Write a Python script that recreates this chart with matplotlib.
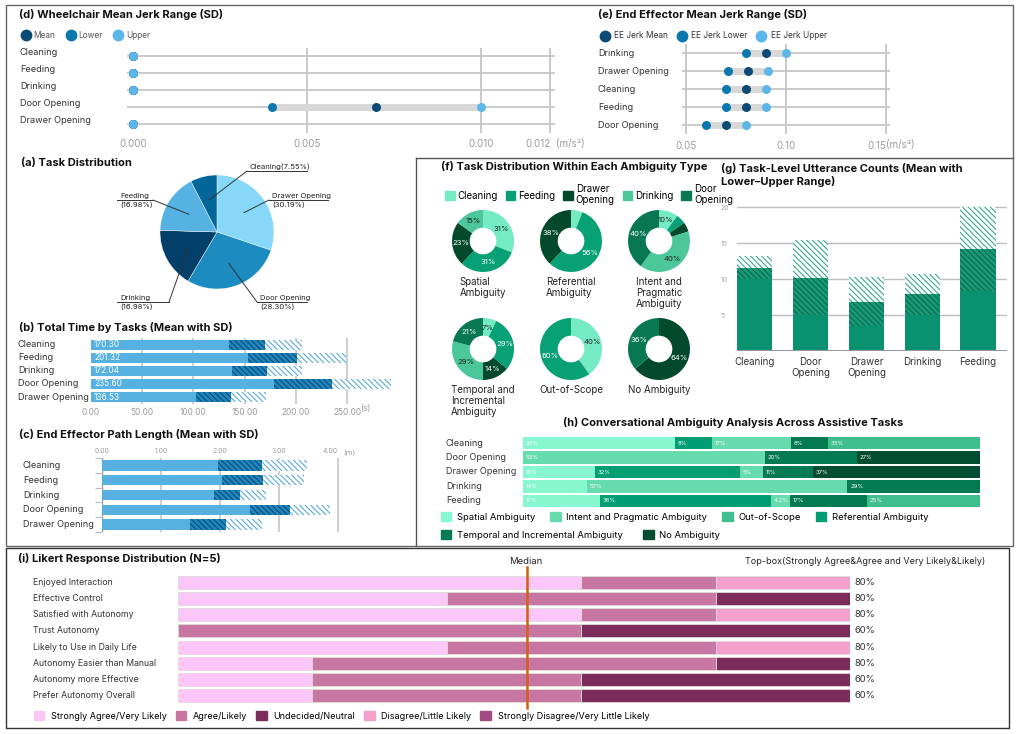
import numpy as np
import matplotlib
matplotlib.use('Agg')
import matplotlib.pyplot as plt
import matplotlib.transforms as mtransforms
from matplotlib.lines import Line2D
from matplotlib.patches import Patch, Rectangle

plt.rcParams['font.family'] = ['Inter', 'DejaVu Sans']
plt.rcParams['hatch.linewidth'] = 0.75

# ---------------- data ----------------
# (d) wheelchair mean jerk
wc_tasks = ['Cleaning', 'Feeding', 'Drinking', 'Door Opening', 'Drawer Opening']
wc_mean = [0.0, 0.0, 0.0, 0.007, 0.0]
wc_lower = [0.0, 0.0, 0.0, 0.004, 0.0]
wc_upper = [0.0, 0.0, 0.0, 0.010, 0.0]

# (e) end effector mean jerk
ee_tasks = ['Drinking', 'Drawer Opening', 'Cleaning', 'Feeding', 'Door Opening']
ee_mean = [0.09, 0.081, 0.08, 0.08, 0.07]
ee_lower = [0.08, 0.071, 0.07, 0.07, 0.06]
ee_upper = [0.10, 0.091, 0.09, 0.09, 0.08]

# (a) task distribution
pie_tasks = ['Drawer Opening', 'Door Opening', 'Drinking', 'Feeding', 'Cleaning']
pie_share = [30.19, 28.30, 16.98, 16.98, 7.55]

# (b) total time
time_tasks = ['Cleaning', 'Feeding', 'Drinking', 'Door Opening', 'Drawer Opening']
time_mean = [170.30, 201.32, 172.04, 235.60, 136.53]
time_sd = [36.0, 47.5, 34.0, 57.0, 34.0]

# (c) end effector path length
path_tasks = ['Cleaning', 'Feeding', 'Drinking', 'Door Opening', 'Drawer Opening']
path_mean = [2.72, 2.73, 2.34, 3.19, 2.11]
path_sd = [0.75, 0.70, 0.44, 0.68, 0.61]

# (f) task distribution within ambiguity types
amb_tasks = ['Cleaning', 'Feeding', 'Drawer Opening', 'Drinking', 'Door Opening']
amb_types = ['Spatial\nAmbiguity', 'Referential\nAmbiguity', 'Intent and\nPragmatic\nAmbiguity',
             'Temporal and\nIncremental\nAmbiguity', 'Out-of-Scope', 'No Ambiguity']
amb_share = [[31, 31, 23, 15, 0],
             [6, 56, 38, 0, 0],
             [10, 5, 5, 40, 40],
             [7, 29, 14, 29, 21],
             [40, 60, 0, 0, 0],
             [0, 0, 64, 0, 36]]

# (g) utterance counts
utt_tasks = ['Cleaning', 'Door\nOpening', 'Drawer\nOpening', 'Drinking', 'Feeding']
utt_lower = [10.0, 5.0, 3.5, 5.0, 8.3]
utt_mean = [11.6, 10.2, 6.8, 7.9, 14.2]
utt_upper = [13.2, 15.5, 10.3, 10.7, 20.0]

# (h) conversational ambiguity
conv_tasks = ['Cleaning', 'Door Opening', 'Drawer Opening', 'Drinking', 'Feeding']
conv_spatial = [33, 0, 16, 14, 17]
conv_referential = [8, 0, 32, 0, 38]
conv_intent = [17, 53, 5, 57, 4.2]
conv_temporal = [8, 20, 11, 29, 17]
conv_oos = [33, 0, 0, 0, 25]
conv_none = [0, 27, 37, 0, 0]

# (i) likert
lik_items = ['Enjoyed Interaction', 'Effective Control', 'Satisfied with Autonomy', 'Trust Autonomy',
             'Likely to Use in Daily Life', 'Autonomy Easier than Manual',
             'Autonomy more Effective', 'Prefer Autonomy Overall']
lik_levels = ['Strongly Agree/Very Likely', 'Agree/Likely', 'Undecided/Neutral',
              'Disagree/Little Likely', 'Strongly Disagree/Very Little Likely']
lik_counts = [[3, 1, 0, 1, 0],
              [2, 2, 1, 0, 0],
              [3, 1, 0, 1, 0],
              [0, 3, 2, 0, 0],
              [2, 2, 0, 1, 0],
              [1, 3, 1, 0, 0],
              [1, 2, 2, 0, 0],
              [1, 2, 2, 0, 0]]
lik_median = 2.6

# ---------------- helpers ----------------
W, H = 1020, 734
fig = plt.figure(figsize=(W / 100, H / 100), dpi=100)


def add_ax(x0, y0, x1, y1):
    return fig.add_axes([x0 / W, 1 - y1 / H, (x1 - x0) / W, (y1 - y0) / H])


def ftext(x, y, s, **kw):
    kw.setdefault('va', 'center')
    return fig.text(x / W, 1 - y / H, s, **kw)


def fline(xs, ys, color='#555', lw=1.0):
    fig.add_artist(Line2D([x / W for x in xs], [1 - y / H for y in ys],
                          transform=fig.transFigure, color=color, lw=lw))


def row_labels(ax, labels, x, dy=0.0, size=6.6):
    tr = mtransforms.blended_transform_factory(fig.transFigure, ax.transData)
    for i, lab in enumerate(labels):
        ax.text(x / W, i + dy, lab, transform=tr, ha='left', va='center',
                fontsize=size, color='#333')


def clean(ax):
    for s in ax.spines.values():
        s.set_visible(False)


TITLE = dict(fontsize=8, fontweight='bold', color='#111')
GRID = '#c6c6c6'
TICK = '#9a9a9a'

# frames
fig.add_artist(Rectangle((6 / W, 1 - 546 / H), 1007 / W, 541 / H, transform=fig.transFigure,
                         fill=False, edgecolor='#666', lw=1.0))
fline([416, 416], [158, 546])
fline([416, 1013], [158, 158])
fig.add_artist(Rectangle((6 / W, 1 - 728 / H), 1003 / W, 180 / H, transform=fig.transFigure,
                         fill=False, edgecolor='#333', lw=1.0))

# ---------------- (d) and (e) jerk ranges ----------------
C_MEAN, C_LO, C_HI = '#0b4a74', '#0a78ad', '#5cb6e8'


def jerk_panel(ax, tasks, lo, mean, hi, ticks, ticklabels, xlim):
    ys = np.arange(len(tasks))
    ax.set_xlim(*xlim)
    ax.set_ylim(len(tasks) - 0.5, -0.5)
    for t in ticks[1:]:
        ax.axvline(t, color=GRID, lw=1.3, zorder=0)
    for y in ys:
        ax.axhline(y, color=GRID, lw=1.3, zorder=0)
    ax.hlines(ys, lo, hi, color='#d8d8d8', lw=5, zorder=1)
    ax.scatter(lo, ys, s=42, color=C_LO, zorder=3, lw=0)
    ax.scatter(mean, ys, s=42, color=C_MEAN, zorder=3, lw=0)
    ax.scatter(hi, ys, s=42, color=C_HI, zorder=4, lw=0)
    ax.set_xticks(ticks, ticklabels)
    ax.set_yticks([])
    ax.tick_params(axis='x', length=0, labelsize=7, labelcolor=TICK, pad=5)
    ax.get_xticklabels()[-1].set_ha('right')
    clean(ax)


ax_d = add_ax(127, 47.5, 555, 132.5)
jerk_panel(ax_d, wc_tasks, wc_lower, wc_mean, wc_upper,
           [0.0, 0.005, 0.010, 0.012], ['0.000', '0.005', '0.010', '0.012'], (-0.00017, 0.01213))
row_labels(ax_d, wc_tasks, 20, dy=-0.18)
ftext(556, 144, '(m/s³)', fontsize=7, color=TICK, ha='left')
ftext(19, 15, '(d) Wheelchair Mean Jerk Range (SD)', **TITLE)
fig.legend([Line2D([], [], ls='', marker='o', ms=7.5, color=c) for c in (C_MEAN, C_LO, C_HI)],
           ['Mean', 'Lower', 'Upper'], loc='center left', bbox_to_anchor=(18 / W, 1 - 35 / H),
           ncol=3, frameon=False, fontsize=6, handlelength=0.8, handletextpad=0.5,
           columnspacing=1.5, borderpad=0, labelcolor='#555')

ax_e = add_ax(682, 44, 890, 134)
jerk_panel(ax_e, ee_tasks, ee_lower, ee_mean, ee_upper,
           [0.05, 0.10, 0.15], ['0.05', '0.10', '0.15'], (0.048, 0.152))
ax_e.axvline(0.05, color=GRID, lw=1.3, zorder=0)
row_labels(ax_e, ee_tasks, 598, dy=0.0)
ftext(886, 145, '(m/s³)', fontsize=7, color=TICK, ha='left')
ftext(598, 15, '(e) End Effector Mean Jerk Range (SD)', **TITLE)
fig.legend([Line2D([], [], ls='', marker='o', ms=7.5, color=c) for c in (C_MEAN, C_LO, C_HI)],
           ['EE Jerk Mean', 'EE Jerk Lower', 'EE Jerk Upper'], loc='center left',
           bbox_to_anchor=(597 / W, 1 - 36 / H), ncol=3, frameon=False, fontsize=6,
           handlelength=0.8, handletextpad=0.7, columnspacing=1.3, borderpad=0, labelcolor='#333')

# ---------------- (a) pie ----------------
pie_colors = ['#87d8f8', '#1b8bc0', '#023f69', '#55b2e3', '#03669a']
ax_a = add_ax(160, 175, 274, 289)
wedges, _ = ax_a.pie(pie_share, colors=pie_colors, startangle=90, counterclock=False,
                     radius=1, wedgeprops=dict(lw=0.3, edgecolor='white'))
ax_a.set_xlim(-1, 1)
ax_a.set_ylim(-1, 1)
ftext(21, 163, '(a) Task Distribution', **TITLE)
# label layout: elbow x, underline y, far x (pixels)
pie_label_layout = {'Cleaning': (247, 171, 307), 'Drawer Opening': (269, 200, 328),
                    'Door Opening': (257, 302, 307), 'Drinking': (169, 302, 117),
                    'Feeding': (153, 200, 117)}
for w, task, share in zip(wedges, pie_tasks, pie_share):
    ang = np.deg2rad((w.theta1 + w.theta2) / 2)
    px, py = 0.58 * np.cos(ang), 0.58 * np.sin(ang)
    ex, ly, fx_ = pie_label_layout[task]
    ax_a.annotate('', xy=(px, py), xytext=(ex, H - ly), textcoords='figure pixels',
                  arrowprops=dict(arrowstyle='-', lw=0.7, color='#333', shrinkA=0, shrinkB=0))
    fline([ex, fx_], [ly, ly], color='#333', lw=0.7)
    x0 = min(ex, fx_) + 3
    if task == 'Cleaning':
        ftext(x0, ly - 1, f'{task}({share:.2f}%)', fontsize=5.5, va='bottom', color='#222')
    else:
        ftext(x0, ly - 1, task, fontsize=5.5, va='bottom', color='#222')
        ftext(x0, ly + 1, f'({share:.2f}%)', fontsize=5.5, va='top', color='#222')

# ---------------- (b) and (c) mean with SD bars ----------------
B_SOLID = '#56b0e0'


def sd_bars(ax, mean, sd, height):
    mean = np.asarray(mean)
    sd = np.asarray(sd)
    ys = np.arange(len(mean))
    ax.barh(ys, mean - sd, height=height, color=B_SOLID, lw=0, zorder=2)
    ax.barh(ys, sd, left=mean - sd, height=height, facecolor='#1f86bd', edgecolor='#0a4773',
            hatch='\\' * 6, lw=0, zorder=2)
    ax.barh(ys, sd, left=mean, height=height, facecolor='white', edgecolor='#4ea7d9',
            hatch='\\' * 6, lw=0, zorder=2)
    ax.set_ylim(len(mean) - 0.5, -0.5)
    ax.set_yticks([])
    clean(ax)


ax_b = add_ax(91, 338.5, 400, 403.5)
sd_bars(ax_b, time_mean, time_sd, 0.84)
ax_b.set_xlim(0, 301.8)
for t in [50, 100, 150, 200, 250]:
    ax_b.axvline(t, color=GRID, lw=1.2, zorder=1)
ax_b.set_xticks([0, 50, 100, 150, 200, 250], [f'{t:.2f}' for t in [0, 50, 100, 150, 200, 250]])
ax_b.tick_params(axis='x', length=0, labelsize=6, labelcolor=TICK, pad=3)
for i, m in enumerate(time_mean):
    ax_b.text(3, i, f'{m:.2f}', color='white', fontsize=6, va='center', zorder=3)
row_labels(ax_b, time_tasks, 18)
ftext(360, 409, '(s)', fontsize=6, color=TICK, ha='left')
ftext(19, 328, '(b) Total Time by Tasks (Mean with SD)', **TITLE)

ax_c = add_ax(102, 458, 345, 532)
sd_bars(ax_c, path_mean, path_sd, 0.7)
ax_c.set_xlim(0, 4.12)
for t in [1, 2, 3, 4]:
    ax_c.axvline(t, color=GRID, lw=1.2, zorder=1)
ax_c.axvline(0, color='#999', lw=1.0, zorder=1)
ax_c.xaxis.tick_top()
ax_c.set_xticks([0, 1, 2, 3, 4], [f'{t:.2f}' for t in [0, 1, 2, 3, 4]])
ax_c.tick_params(axis='x', length=0, labelsize=5, labelcolor=TICK, pad=3)
ax_c.get_xticklabels()[-1].set_ha('right')
ax_c.hlines(np.arange(len(path_mean) + 1) - 0.5, -0.12, 0, color='#bbb', lw=0.8, clip_on=False)
row_labels(ax_c, path_tasks, 23)
ftext(343, 453, '(m)', fontsize=5.5, color=TICK, ha='left')
ftext(19, 435, '(c) End Effector Path Length (Mean with SD)', **TITLE)

# ---------------- (f) donuts ----------------
F_COL = ['#74ebc3', '#08a075', '#034a2d', '#4bc79a', '#087853']
F_TXT = ['#222', 'white', 'white', '#222', 'white']
ftext(574, 167, '(f) Task Distribution Within Each Ambiguity Type', ha='center', **TITLE)
fig.legend([Patch(color=c) for c in F_COL],
           ['Cleaning', 'Feeding', 'Drawer\nOpening', 'Drinking', 'Door\nOpening'],
           loc='upper left', bbox_to_anchor=(440 / W, 1 - 179 / H), ncol=5, frameon=False,
           fontsize=7, handlelength=1.0, handleheight=1.0, handletextpad=0.3,
           columnspacing=0.8, borderpad=0, labelspacing=0.2)
donut_cx = [483, 571, 659]
donut_cy = [241, 349]
for k, (name, vals) in enumerate(zip(amb_types, amb_share)):
    cx, cy = donut_cx[k % 3], donut_cy[k // 3]
    ax = add_ax(cx - 31, cy - 31, cx + 31, cy + 31)
    ws, _ = ax.pie(vals, colors=F_COL, startangle=90, counterclock=False, radius=1,
                   wedgeprops=dict(width=0.57, lw=0))
    ax.set_xlim(-1, 1)
    ax.set_ylim(-1, 1)
    for w, v, tc in zip(ws, vals, F_TXT):
        if v >= 7:
            a = np.deg2rad((w.theta1 + w.theta2) / 2)
            ax.text(0.71 * np.cos(a), 0.71 * np.sin(a), f'{v}%', ha='center', va='center',
                    fontsize=5.5, color=tc)
    ftext(cx, cy + 36, name, ha='center', va='top', ma='left', fontsize=7, color='#222',
          linespacing=1.15)

# ---------------- (g) utterance counts ----------------
G_SOLID = '#0a9270'
ax_g = add_ax(737, 200, 1007, 351)
xg = np.arange(len(utt_tasks))
lo, me, up = np.array(utt_lower), np.array(utt_mean), np.array(utt_upper)
ax_g.bar(xg, lo, width=0.63, color=G_SOLID, lw=0, zorder=2)
ax_g.bar(xg, me - lo, bottom=lo, width=0.63, facecolor='#179a75', edgecolor='#07664d',
         hatch='\\' * 6, lw=0, zorder=2)
ax_g.bar(xg, up - me, bottom=me, width=0.63, facecolor='white', edgecolor='#2aa784',
         hatch='\\' * 6, lw=0, zorder=2)
ax_g.set_xlim(-0.32, 4.52)
ax_g.set_ylim(0, 21)
for t in [5, 10, 15, 20]:
    ax_g.axhline(t, color='#bdbdbd', lw=1.0, zorder=1)
ax_g.axhline(0, color='#999', lw=1.4, zorder=3)
ax_g.set_yticks([5, 10, 15, 20], ['5', '10', '15', '20'])
ax_g.set_xticks(xg, utt_tasks)
ax_g.tick_params(axis='y', length=0, labelsize=5, labelcolor='#aaa', pad=12)
for lab in ax_g.get_yticklabels():
    lab.set_ha('left')
ax_g.tick_params(axis='x', length=0, labelsize=7, labelcolor='#333', pad=4)
clean(ax_g)
ftext(721, 175, '(g) Task-Level Utterance Counts (Mean with\nLower\u2013Upper Range)',
      ha='left', linespacing=1.3, **TITLE)

# ---------------- (h) conversational ambiguity ----------------
conv_types = ['Spatial Ambiguity', 'Referential Ambiguity', 'Intent and Pragmatic Ambiguity',
              'Temporal and Incremental Ambiguity', 'Out-of-Scope', 'No Ambiguity']
conv_vals = np.array([conv_spatial, conv_referential, conv_intent, conv_temporal, conv_oos,
                      conv_none], dtype=float)
H_COL = ['#86f7cf', '#009e72', '#66dcae', '#047a53', '#3fbe8e', '#034e30']
ax_h = add_ax(523, 436, 980, 508)
widths = conv_vals / conv_vals.sum(axis=0) * 100
left = np.zeros(len(conv_tasks))
for j in range(len(conv_types)):
    ax_h.barh(np.arange(len(conv_tasks)), widths[j], left=left, height=0.85, color=H_COL[j], lw=0)
    for i in range(len(conv_tasks)):
        if conv_vals[j, i] > 0:
            ax_h.text(left[i] + 0.6, i, f'{conv_vals[j, i]:g}%', fontsize=4.3, color='white',
                      va='center')
    left += widths[j]
ax_h.set_xlim(0, 100)
ax_h.set_ylim(len(conv_tasks) - 0.5, -0.5)
ax_h.set_xticks([])
ax_h.set_yticks([])
clean(ax_h)
row_labels(ax_h, conv_tasks, 446, size=6.5)
ftext(733, 423, '(h) Conversational Ambiguity Analysis Across Assistive Tasks', ha='center',
      **TITLE)
leg_order1 = [0, 2, 4, 1]
leg_order2 = [3, 5]
for order, yy, sp in ((leg_order1, 517, 1.6), (leg_order2, 535, 2.2)):
    fig.legend([Patch(color=H_COL[j]) for j in order], [conv_types[j] for j in order],
               loc='center left', bbox_to_anchor=(436 / W, 1 - yy / H), ncol=len(order),
               frameon=False, fontsize=6.8, handlelength=1.1, handleheight=1.1,
               handletextpad=0.6, columnspacing=sp, borderpad=0)

# ---------------- (i) likert ----------------
L_COL = ['#fdc6f8', '#c877a2', '#7b2c5b', '#f4a0cb', '#a24b82']
ax_i = add_ax(178, 574, 850, 704)
counts = np.array(lik_counts, dtype=float)
yi = np.arange(len(lik_items))
left = np.zeros(len(lik_items))
for j in range(len(lik_levels)):
    ax_i.barh(yi, counts[:, j], left=left, height=0.8, color=L_COL[j], edgecolor='#dcdcdc',
              lw=0.6)
    left += counts[:, j]
top_box = (counts[:, 0] + counts[:, 1]) / counts.sum(axis=1) * 100
for i, v in enumerate(top_box):
    ax_i.text(5.03, i, f'{v:.0f}%', fontsize=6.8, color='#333', va='center')
ax_i.plot([lik_median, lik_median], [-0.95, 7.75], color='#d2600f', lw=1.8, clip_on=False,
          zorder=5)
ax_i.set_xlim(0, 5)
ax_i.set_ylim(len(lik_items) - 0.5, -0.5)
ax_i.set_xticks([])
ax_i.set_yticks([])
clean(ax_i)
row_labels(ax_i, lik_items, 33, size=6.3)
ftext(18, 558, '(i) Likert Response Distribution (N=5)', **TITLE)
ftext(526, 561, 'Median', fontsize=6.8, ha='center', color='#222')
ftext(985, 561, 'Top-box(Strongly Agree&Agree and Very Likely&Likely)', fontsize=6.5, ha='right',
      color='#222')
fig.legend([Patch(color=c) for c in L_COL], lik_levels, loc='center left',
           bbox_to_anchor=(29 / W, 1 - 716 / H), ncol=5, frameon=False, fontsize=6.5,
           handlelength=1.2, handleheight=1.2, handletextpad=0.7, columnspacing=1.0, borderpad=0)

fig.savefig('out.png', dpi=100, facecolor='white')
